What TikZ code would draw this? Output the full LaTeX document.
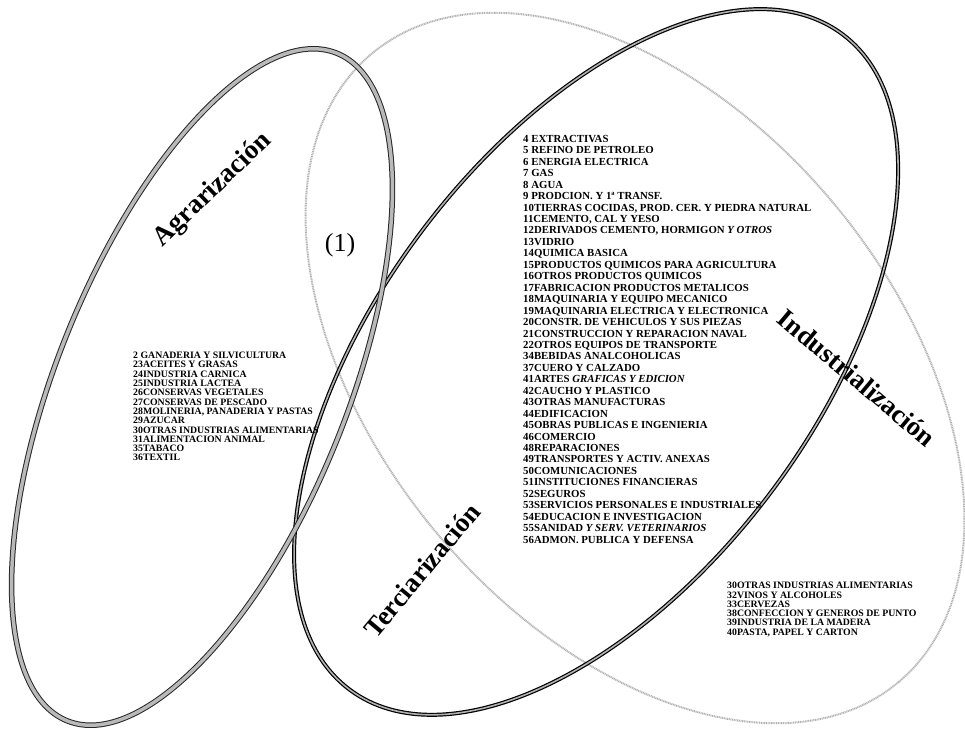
\documentclass[tikz,border=0pt]{standalone}
\usepackage{fontspec}
\setmainfont{Liberation Serif}
\usepackage{tikz}
\usetikzlibrary{positioning}

\begin{document}
\begin{tikzpicture}[x=1pt, y=-1pt,
    lista/.style={anchor=north west, align=left, inner sep=0pt, font=\bfseries\fontsize{9.8}{9.3}\selectfont},
    listc/.style={anchor=north west, align=left, inner sep=0pt, font=\bfseries\fontsize{10.8}{11.45}\selectfont},
    titulo/.style={font=\bfseries\fontsize{27}{27}\selectfont, inner sep=0pt},
    gruesa/.style={draw=black!85, line width=1pt, double=gray!55, double distance=3.5pt},
    oscura/.style={draw=black, line width=1.2pt, double=gray!60, double distance=1.6pt},
    punteada/.style={draw=gray!60, line width=2pt, dash pattern=on 1pt off 0.7pt}]

\useasboundingbox (0,0) rectangle (965,739);

% centros de las elipses
\coordinate (cagr) at (202,387);
\coordinate (cind) at (635,368);
\coordinate (cter) at (596,362);

\draw[punteada, rotate around={-50:(cind)}] (cind) ellipse [x radius=410, y radius=258];
\draw[oscura, rotate around={53:(cter)}] (cter) ellipse [x radius=410, y radius=218];
\draw[gruesa, rotate around={68:(cagr)}] (cagr) ellipse [x radius=360, y radius=145];

% etiquetas
\node[titulo, rotate=44] (agr) at (213,190) {Agrarización};
\node[titulo, rotate=-40] (ind) at (857,378) {Industrialización};
\node[titulo, rotate=50] (ter) at (422,570) {Terciarización};
\node[font=\fontsize{26}{26}\selectfont, inner sep=0pt] (uno) at (340,245) {(1)};

% sectores
\node[lista] (agrolist) at (133,352) {2 GANADERIA Y SILVICULTURA\\
23ACEITES Y GRASAS\\
24INDUSTRIA CARNICA\\
25INDUSTRIA LACTEA\\
26CONSERVAS VEGETALES\\
27CONSERVAS DE PESCADO\\
28MOLINERIA, PANADERIA Y PASTAS\\
29AZUCAR\\
30OTRAS INDUSTRIAS ALIMENTARIAS\\
31ALIMENTACION ANIMAL\\
35TABACO\\
36TEXTIL};

\node[listc] (comlist) at (523,135) {4 EXTRACTIVAS\\
5 REFINO DE PETROLEO\\
6 ENERGIA ELECTRICA\\
7 GAS\\
8 AGUA\\
9 PRODCION. Y 1ª TRANSF.\\
10TIERRAS COCIDAS, PROD. CER. Y PIEDRA NATURAL\\
11CEMENTO, CAL Y YESO\\
12DERIVADOS CEMENTO, HORMIGON {\itshape Y OTROS}\\
13VIDRIO\\
14QUIMICA BASICA\\
15PRODUCTOS QUIMICOS PARA AGRICULTURA\\
16OTROS PRODUCTOS QUIMICOS\\
17FABRICACION  PRODUCTOS METALICOS\\
18MAQUINARIA  Y  EQUIPO MECANICO\\
19MAQUINARIA ELECTRICA Y ELECTRONICA\\
20CONSTR. DE VEHICULOS Y SUS PIEZAS\\
21CONSTRUCCION  Y REPARACION NAVAL\\
22OTROS EQUIPOS DE TRANSPORTE\\
34BEBIDAS ANALCOHOLICAS\\
37CUERO Y CALZADO\\
41ARTES {\itshape GRAFICAS Y EDICION}\\
42CAUCHO Y PLASTICO\\
43OTRAS MANUFACTURAS\\
44EDIFICACION\\
45OBRAS PUBLICAS E INGENIERIA\\
46COMERCIO\\
48REPARACIONES\\
49TRANSPORTES Y ACTIV. ANEXAS\\
50COMUNICACIONES\\
51INSTITUCIONES FINANCIERAS\\
52SEGUROS\\
53SERVICIOS PERSONALES E INDUSTRIALES\\
54EDUCACION E INVESTIGACION\\
55SANIDAD {\itshape Y SERV. VETERINARIOS}\\
56ADMON. PUBLICA Y DEFENSA};

\node[lista] (indlist) at (727,582) {30OTRAS INDUSTRIAS ALIMENTARIAS\\
32VINOS Y ALCOHOLES\\
33CERVEZAS\\
38CONFECCION Y GENEROS DE PUNTO\\
39INDUSTRIA DE LA MADERA\\
40PASTA, PAPEL Y CARTON};
\end{tikzpicture}
\end{document}
